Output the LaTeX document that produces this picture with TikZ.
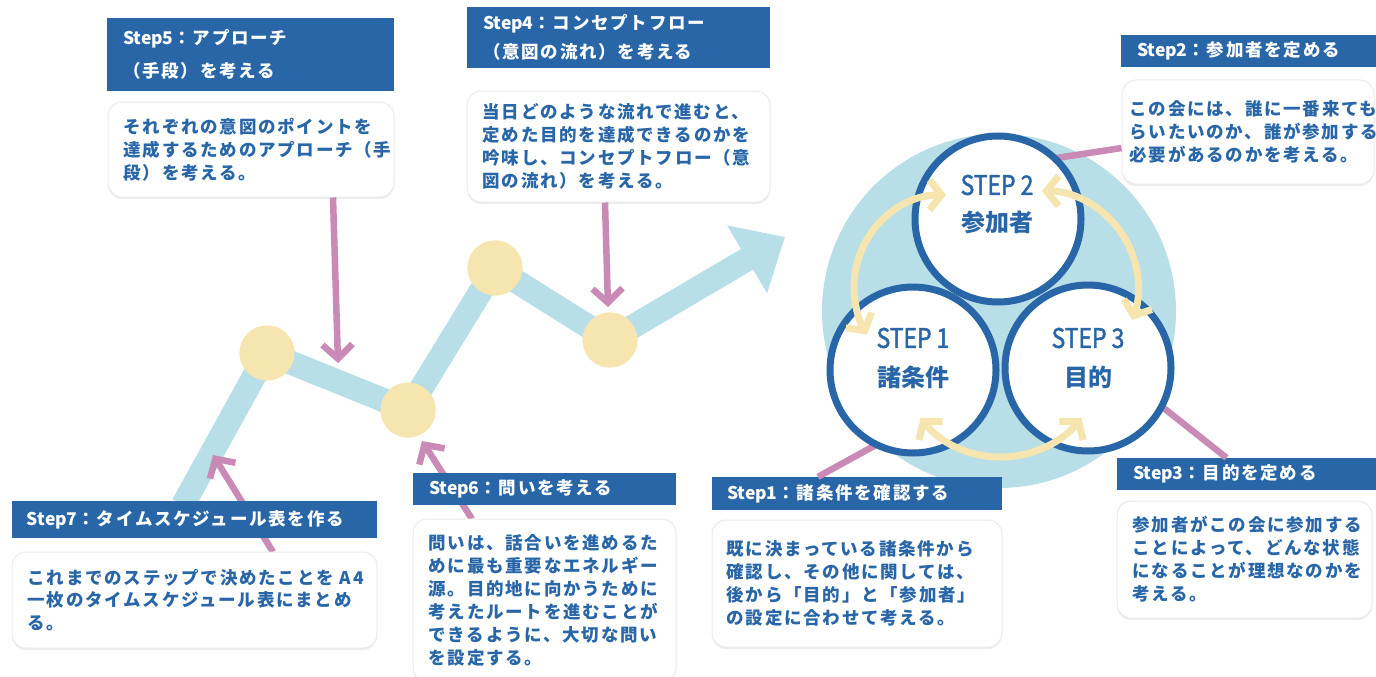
\documentclass[tikz,border=0pt]{standalone}
\usepackage{fontspec}
\setmainfont{Noto Sans CJK JP}
\newfontfamily\jp[LetterSpace=10]{Noto Sans CJK JP}
\newfontfamily\jpk{Noto Sans CJK JP}
\newfontfamily\jpcond[FakeStretch=0.85,FakeBold=1.6]{Noto Sans CJK JP}
\newcommand\stepword[1]{{\jpk\bfseries Step#1}}
\usetikzlibrary{arrows.meta,shadows,calc}
\definecolor{hblue}{HTML}{2866A8}
\definecolor{lblue}{HTML}{B8DFE8}
\definecolor{ylw}{HTML}{F6E5AE}
\definecolor{pnk}{HTML}{C98BB5}
\begin{document}
\begin{tikzpicture}[x=1pt,y=-1pt,
  hdr/.style={rectangle, fill=hblue, draw=none, inner sep=0pt},
  body/.style={rectangle, fill=white, draw=black!8, line width=1pt, rounded corners=14pt, inner sep=0pt,
    drop shadow={opacity=0.15, shadow xshift=0pt, shadow yshift=-2pt}},
  htxt/.style={anchor=west, inner sep=0pt, text=white, align=left, font=\jp\bfseries\fontsize{17.5}{#1}\selectfont},
  htxt/.default=23,
  btxt/.style={anchor=west, inner sep=0pt, text=hblue, align=left, font=\jp\bfseries\fontsize{17.5}{#1}\selectfont},
  btxt/.default=23,
  plink/.style={draw=pnk, line width=6.5pt},
  parrow/.style={draw=pnk, line width=6.5pt, -{Straight Barb[length=14pt,width=30pt]}},
  yarc/.style={draw=ylw, line width=7pt, {Straight Barb[length=12pt,width=30pt]}-{Straight Barb[length=12pt,width=30pt]}},
  band/.style={draw=lblue, line width=24pt, line join=round, -{Triangle[width=76pt,length=44pt]}},
  dot/.style={circle, fill=ylw, draw=none, minimum size=55pt, inner sep=0pt},
  stepc/.style={circle, draw=hblue, line width=7pt, fill=white, minimum size=166pt, inner sep=0pt},
  ctxt/.style={text=hblue, inner sep=0pt, font=\jpcond\fontsize{27}{27}\selectfont},
  ktxt/.style={text=hblue, inner sep=0pt, font=\jpk\bfseries\fontsize{24}{24}\selectfont}
]
\useasboundingbox (0,0) rectangle (1376,677);

% background disc
\node[circle, fill=lblue, minimum size=354pt, inner sep=0pt] (bg) at (999,311) {};

% zigzag path
\coordinate (z0) at (183,505);
\coordinate (z5) at (785,237);
\node[dot] (d1) at (267,353) {};
\node[dot] (d2) at (408,410) {};
\node[dot] (d3) at (495,268) {};
\node[dot] (d4) at (610,340) {};
\draw[band] (z0) -- (d1.center) -- (d2.center) -- (d3.center) -- (d4.center) -- (z5);
\node[dot] at (d1) {};
\node[dot] at (d2) {};
\node[dot] at (d3) {};
\node[dot] at (d4) {};

% boxes (positions)
\node[hdr, minimum width=287pt, minimum height=73pt] (h5) at (250.5,54.5) {};
\node[body, minimum width=286pt, minimum height=95pt] (b5) at (251,149.5) {};
\node[hdr, minimum width=303pt, minimum height=61pt] (h4) at (618.5,37.5) {};
\node[body, minimum width=303pt, minimum height=111pt] (b4) at (618.5,146.5) {};

% pointers from steps 5,4
\coordinate (t5) at (338,363);
\coordinate (t4) at (608,307);
\draw[parrow] ($(b5.south)+(82,0)$) -- (t5);
\draw[parrow] ($(b4.south)+(-13.5,0)$) -- (t4);

% pointers from steps 7,6
\coordinate (t7) at (213,455);
\coordinate (t6) at (422,441);
\coordinate (p7) at (273,552);
\coordinate (p6) at (472,519);
\draw[parrow] (p7) -- (t7);
\draw[parrow] (p6) -- (t6);

% lower-left boxes
\node[hdr, minimum width=365pt, minimum height=37pt] (h7) at (194.5,519.5) {};
\node[body, minimum width=365pt, minimum height=96pt] (b7) at (194.5,600) {};
\node[hdr, minimum width=263pt, minimum height=32pt] (h6) at (544.5,489) {};
\node[body, minimum width=263pt, minimum height=163pt] (b6) at (544.5,600.5) {};

% right side boxes
\node[hdr, minimum width=255pt, minimum height=32pt] (h2) at (1248.5,51) {};
\node[body, minimum width=252pt, minimum height=104pt] (b2) at (1248,132) {};
\node[hdr, minimum width=259pt, minimum height=32pt] (h3) at (1246.5,474) {};
\node[body, minimum width=255pt, minimum height=117pt] (b3) at (1244.5,559.5) {};
\node[hdr, minimum width=290pt, minimum height=33pt] (h1) at (857,493.5) {};
\node[body, minimum width=290pt, minimum height=127pt] (b1) at (857,583.5) {};

% step circles
\coordinate (c1) at (913,370);
\coordinate (c2) at (998,219);
\coordinate (c3) at (1088,368);
\path (c1) +(116:83) coordinate (e1);
\path (c2) +(-47:83) coordinate (e2);
\path (c3) +(27.5:83) coordinate (e3);
\draw[plink] (e2) -- ($(b2.west)+(0,16)$);
\draw[plink] (e3) -- ($(h3.north)+(-20,0)$);
\draw[plink] (e1) -- ($(h1.north)+(-39,0)$);
\node[stepc] (s1) at (c1) {};
\node[stepc] (s3) at (c3) {};
\node[stepc] (s2) at (c2) {};

\node[ctxt] (s2a) at (997,185) {STEP 2};
\node[ktxt] (s2b) at (997,222) {参加者};
\node[ctxt] (s1a) at (913,338) {STEP 1};
\node[ktxt] (s1b) at (913,377) {諸条件};
\node[ctxt] (s3a) at (1088,338) {STEP 3};
\node[ktxt] (s3b) at (1088,377) {目的};

% cycle arrows
\draw[yarc] (946,287) ++(270:92) arc[start angle=270, end angle=149, radius=92];
\draw[yarc] (1042,287) ++(270:96) arc[start angle=270, end angle=380, radius=96];
\draw[yarc] (1001,355) ++(142:102) arc[start angle=142, end angle=38, radius=102];

% texts
\node[htxt=33] (h5t) at ($(h5.west)+(16,0)$) {\stepword{5}：アプローチ\\（手段）を考える};
\node[btxt] (b5t) at ($(b5.west)+(16,0)$) {それぞれの意図のポイントを\\達成するためのアプローチ（手\\段）を考える。};
\node[htxt=29] (h4t) at ($(h4.west)+(16,0)$) {\stepword{4}：コンセプトフロー\\（意図の流れ）を考える};
\node[btxt] (b4t) at ($(b4.west)+(16,0)$) {当日どのような流れで進むと、\\定めた目的を達成できるのかを\\吟味し、コンセプトフロー（意\\図の流れ）を考える。};
\node[htxt] (h2t) at ($(h2.west)+(16,0)$) {\stepword{2}：参加者を定める};
\node[btxt] (b2t) at ($(b2.west)+(8,0)$) {この会には、誰に一番来ても\\らいたいのか、誰が参加する\\必要があるのかを考える。};
\node[htxt] (h3t) at ($(h3.west)+(16,0)$) {\stepword{3}：目的を定める};
\node[btxt] (b3t) at ($(b3.west)+(16,0)$) {参加者がこの会に参加する\\ことによって、どんな状態\\になることが理想なのかを\\考える。};
\node[htxt] (h1t) at ($(h1.west)+(15,0)$) {\stepword{1}：諸条件を確認する};
\node[btxt] (b1t) at ($(b1.west)+(15,0)$) {既に決まっている諸条件から\\確認し、その他に関しては、\\後から「目的」と「参加者」\\の設定に合わせて考える。};
\node[htxt] (h6t) at ($(h6.west)+(16,0)$) {\stepword{6}：問いを考える};
\node[btxt] (b6t) at ($(b6.west)+(16,0)$) {問いは、話合いを進めるた\\めに最も重要なエネルギー\\源。目的地に向かうために\\考えたルートを進むことが\\できるように、大切な問い\\を設定する。};
\node[htxt] (h7t) at ($(h7.west)+(15,0)$) {\stepword{7}：タイムスケジュール表を作る};
\node[btxt=22.5] (b7t) at ($(b7.west)+(16,0)$) {これまでのステップで決めたことを A4\\一枚のタイムスケジュール表にまとめ\\る。};
\end{tikzpicture}
\end{document}
